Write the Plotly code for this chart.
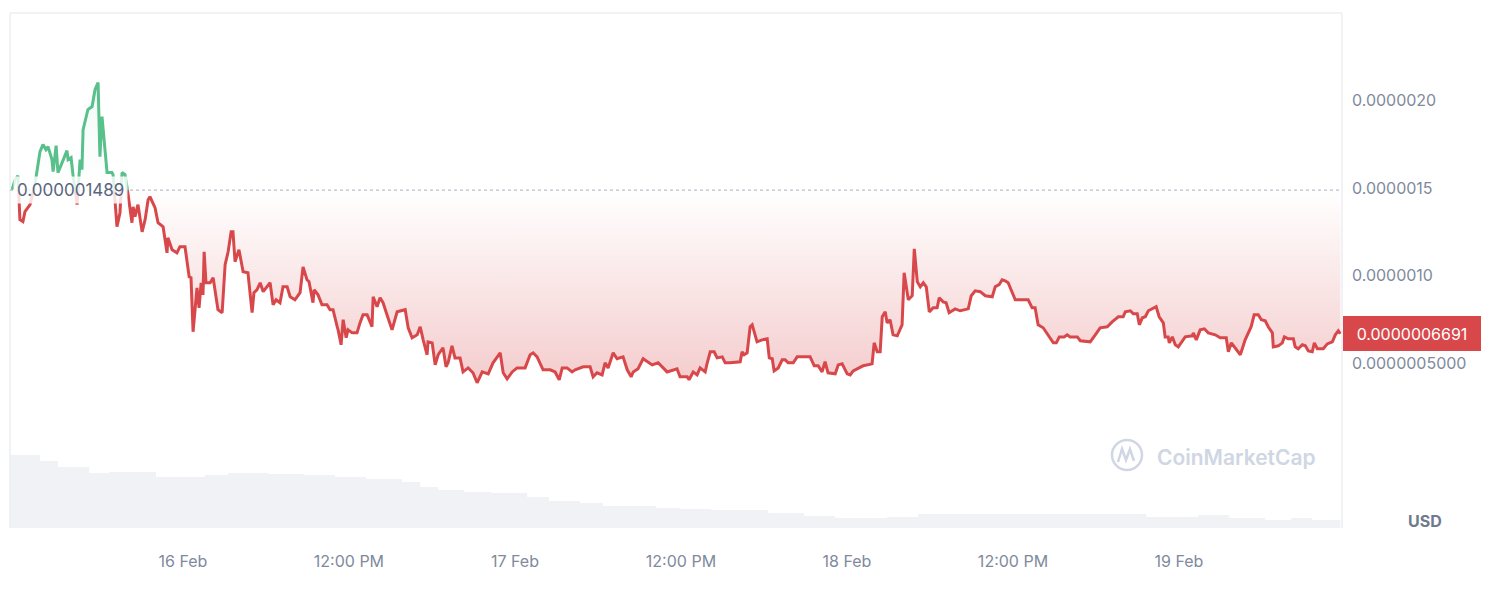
import pandas as pd
import plotly.graph_objects as go

# price samples: minutes after 15 Feb 2025 11:30, price in nano-USD (1e-9)
minutes = [
    9, 22, 35, 43, 56, 65, 87, 108, 130, 143, 156, 165, 182, 187, 200, 208, 226, 239, 247, 252,
    265, 273, 291, 304, 312, 317, 338, 356, 369, 382, 390, 399, 403, 421, 442, 447, 464, 477, 486, 499,
    508, 529, 534, 542, 555, 573, 586, 599, 607, 629, 642, 664, 681, 685, 703, 724, 737, 759, 777, 785,
    794, 811, 820, 829, 837, 842, 850, 868, 881, 902, 920, 933, 946, 959, 967, 976, 993, 1011, 1032, 1050,
    1058, 1071, 1085, 1098, 1128, 1141, 1154, 1171, 1184, 1202, 1215, 1236, 1258, 1271, 1288, 1297, 1314, 1319, 1336, 1353,
    1375, 1388, 1401, 1419, 1423, 1436, 1445, 1458, 1466, 1484, 1505, 1518, 1531, 1549, 1570, 1575, 1592, 1605, 1618, 1635,
    1657, 1679, 1714, 1727, 1744, 1766, 1779, 1792, 1809, 1813, 1831, 1844, 1857, 1878, 1891, 1900, 1917, 1930, 1952, 1965,
    1987, 2008, 2026, 2048, 2074, 2095, 2126, 2139, 2156, 2178, 2199, 2234, 2256, 2269, 2286, 2312, 2343, 2364, 2382, 2395,
    2416, 2438, 2451, 2486, 2516, 2529, 2546, 2568, 2581, 2594, 2616, 2633, 2659, 2677, 2694, 2703, 2724, 2746, 2763, 2785,
    2811, 2850, 2893, 2906, 2937, 2945, 2963, 2980, 2993, 3015, 3024, 3037, 3054, 3067, 3089, 3102, 3123, 3167, 3175, 3184,
    3197, 3210, 3219, 3240, 3262, 3284, 3293, 3306, 3314, 3332, 3349, 3362, 3375, 3397, 3414, 3470, 3488, 3505, 3522, 3535,
    3548, 3579, 3592, 3609, 3631, 3644, 3657, 3679, 3700, 3739, 3748, 3761, 3774, 3783, 3796, 3804, 3817, 3830, 3848, 3869,
    3878, 3896, 3913, 3922, 3935, 3948, 3961, 3974, 3987, 4004, 4021, 4030, 4047, 4060, 4073, 4099, 4121, 4156, 4169, 4186,
    4208, 4230, 4260, 4273, 4290, 4303, 4316, 4329, 4347, 4360, 4416, 4433, 4446, 4459, 4481, 4503, 4525, 4538, 4551, 4572,
    4585, 4598, 4629, 4642, 4685, 4707, 4728, 4759, 4780, 4807, 4828, 4837, 4859, 4872, 4889, 4898, 4911, 4924, 4937, 4971,
    4984, 5002, 5010, 5023, 5028, 5041, 5054, 5067, 5084, 5097, 5128, 5132, 5145, 5162, 5180, 5197, 5227, 5249, 5275, 5284,
    5297, 5314, 5336, 5357, 5383, 5396, 5414, 5427, 5444, 5457, 5475, 5479, 5501, 5518, 5527, 5544, 5566, 5574, 5587, 5605,
    5618, 5631, 5648, 5657, 5670, 5696, 5713, 5735, 5748, 5761, 5770,
]
price_nusd = [
    1491, 1549, 1571, 1320, 1309, 1366, 1406, 1520, 1708, 1749, 1720, 1737, 1663, 1594, 1743, 1589, 1646, 1691, 1714, 1663,
    1674, 1577, 1406, 1663, 1606, 1834, 1949, 1966, 2063, 2103, 1680, 1909, 1851, 1589, 1589, 1577, 1280, 1360, 1589, 1577,
    1503, 1303, 1394, 1337, 1406, 1251, 1320, 1434, 1451, 1389, 1303, 1280, 1131, 1217, 1149, 1131, 1166, 1166, 994, 989,
    680, 931, 817, 960, 891, 1137, 960, 960, 989, 806, 789, 1063, 1137, 1251, 1251, 1080, 1149, 1023, 1017, 789,
    903, 920, 960, 909, 960, 834, 863, 846, 937, 937, 880, 863, 903, 1051, 977, 966, 846, 920, 891, 834,
    834, 806, 806, 709, 691, 606, 749, 646, 691, 674, 674, 731, 777, 777, 709, 880, 823, 874, 846, 777,
    691, 794, 806, 703, 646, 663, 709, 634, 549, 623, 617, 491, 549, 589, 480, 503, 600, 531, 531, 451,
    474, 446, 389, 451, 440, 503, 560, 446, 411, 451, 474, 474, 549, 560, 537, 463, 463, 451, 406, 474,
    474, 451, 463, 480, 480, 423, 446, 434, 503, 474, 560, 526, 537, 463, 423, 451, 469, 526, 509, 491,
    503, 451, 469, 423, 423, 406, 451, 434, 474, 451, 503, 566, 566, 531, 537, 503, 503, 509, 566, 549,
    560, 709, 720, 623, 634, 640, 531, 526, 457, 474, 520, 520, 503, 503, 537, 537, 486, 486, 451, 509,
    446, 440, 491, 497, 440, 434, 457, 474, 486, 497, 617, 566, 566, 766, 794, 731, 749, 663, 657, 720,
    1017, 863, 886, 1154, 966, 937, 960, 937, 794, 817, 817, 874, 851, 846, 789, 811, 800, 811, 886, 914,
    909, 886, 880, 937, 949, 977, 971, 960, 909, 863, 863, 817, 817, 720, 703, 663, 617, 617, 651, 651,
    663, 651, 651, 629, 623, 663, 703, 709, 737, 766, 766, 794, 800, 783, 783, 720, 760, 766, 800, 823,
    766, 731, 651, 651, 617, 651, 606, 594, 623, 651, 657, 674, 634, 691, 697, 674, 663, 646, 646, 566,
    617, 589, 549, 634, 709, 777, 777, 749, 743, 709, 674, 594, 600, 617, 651, 640, 640, 594, 583, 606,
    600, 571, 566, 617, 583, 583, 611, 623, 663, 686, 669,
]

# volume (relative units) sampled at minutes after 15 Feb 11:30
vol_minutes = [0, 113, 130, 208, 343, 429, 577, 633, 772, 846, 946, 1119, 1275, 1410, 1544, 1700, 1779, 1857, 1969, 2087,
               2243, 2338, 2473, 2572, 2802, 2906, 3041, 3288, 3444, 3579, 3804, 3939, 4347, 4568, 4928, 5154, 5288,
               5444, 5557, 5648, 5770]
volume = [73, 73, 67, 61, 55, 56, 56, 51, 51, 53, 55, 54, 53, 51, 49, 46, 41, 38, 36, 35,
          31, 27, 25, 22, 20, 19, 18, 15, 12, 10, 11, 14, 14, 14, 11, 13, 10, 8, 10, 8, 8]

tick_dates = ["2025-02-16 00:00", "2025-02-16 12:00", "2025-02-17 00:00", "2025-02-17 12:00",
              "2025-02-18 00:00", "2025-02-18 12:00", "2025-02-19 00:00"]
tick_labels = ["16 Feb", "12:00 PM", "17 Feb", "12:00 PM", "18 Feb", "12:00 PM", "19 Feb"]

y_ticks = [0, 5e-7, 1e-6, 1.5e-6, 2e-6]
y_tick_labels = ["", "0.0000005000", "0.0000010", "0.0000015", "0.0000020"]

base_price = 1.489e-6
last_price = 6.691e-7

start = pd.Timestamp("2025-02-15 11:30")
times = start + pd.to_timedelta(minutes, unit="min")
vol_times = start + pd.to_timedelta(vol_minutes, unit="min")
prices = [p * 1e-9 for p in price_nusd]

GREEN = "#58c08a"
RED = "#d8484b"
GRID = "#eceef2"
TEXT = "#808a9d"

W, H = 1492, 594
L, R, T, B = 10, 150, 13, 66
y_lo, y_hi = -4.4e-7, 2.5e-6
split = (base_price - y_lo) / (y_hi - y_lo)
vol_frac = 77 / (H - T - B)


def px(x):
    return (x - L) / (W - L - R)


def py(y):
    return (H - B - y) / (H - T - B)


fig = go.Figure()

# volume
fig.add_trace(go.Scatter(x=vol_times, y=volume, yaxis="y4", mode="lines", line=dict(width=0, shape="hv"),
                         fill="tozeroy", fillcolor="#f1f2f6", hoverinfo="skip"))

# red part (below base price)
fig.add_trace(go.Scatter(x=[times[0], times[-1]], y=[base_price, base_price], yaxis="y2", mode="lines",
                         line=dict(width=0), hoverinfo="skip"))
fig.add_trace(go.Scatter(x=times, y=prices, yaxis="y2", mode="lines", line=dict(color=RED, width=3),
                         fill="tonexty",
                         fillgradient=dict(type="vertical", start=3.8e-7, stop=base_price,
                                           colorscale=[[0, "rgba(216,72,75,0.28)"], [1, "rgba(216,72,75,0.0)"]])))

# green part (above base price)
fig.add_trace(go.Scatter(x=[times[0], times[-1]], y=[base_price, base_price], yaxis="y3", mode="lines",
                         line=dict(width=0), hoverinfo="skip"))
fig.add_trace(go.Scatter(x=times, y=prices, yaxis="y3", mode="lines", line=dict(color=GREEN, width=3),
                         fill="tonexty",
                         fillgradient=dict(type="vertical", start=base_price, stop=2.1e-6,
                                           colorscale=[[0, "rgba(88,192,138,0.0)"], [1, "rgba(88,192,138,0.08)"]])))

x_range = [start, pd.Timestamp("2025-02-19 11:47")]

fig.update_layout(
    width=W, height=H,
    margin=dict(l=L, r=R, t=T, b=B),
    paper_bgcolor="white", plot_bgcolor="white",
    showlegend=False,
    font=dict(family="Inter, Noto Sans, sans-serif", size=16, color=TEXT),
    xaxis=dict(range=x_range, showgrid=False, zeroline=False, showline=False,
               tickvals=pd.to_datetime(tick_dates), ticktext=tick_labels, ticks="",
               ticklabelstandoff=22, tickfont=dict(size=16, color=TEXT)),
    yaxis=dict(range=[y_lo, y_hi], side="right", tickvals=y_ticks, ticktext=y_tick_labels,
               showgrid=True, gridcolor=GRID, gridwidth=1, zeroline=False, showline=False,
               ticks="", ticklabelstandoff=9, tickfont=dict(size=16, color=TEXT)),
    yaxis2=dict(domain=[0, split], range=[y_lo, base_price], anchor="x", visible=False),
    yaxis3=dict(domain=[split, 1], range=[base_price, y_hi], anchor="x", visible=False),
    yaxis4=dict(domain=[0, vol_frac], range=[0, 77], anchor="x", visible=False),
)

# frame lines
for x0, y0, x1, y1 in [(0, 0, 0, 1), (1, 0, 1, 1), (0, 1, 1, 1)]:
    fig.add_shape(type="line", xref="paper", yref="paper", x0=x0, y0=y0, x1=x1, y1=y1,
                  line=dict(color=GRID, width=1.5))

# base price dotted line
fig.add_shape(type="line", xref="paper", yref="y", x0=0, x1=1, y0=base_price, y1=base_price,
              line=dict(color="#a7adbd", width=1, dash="dot"))

fig.add_annotation(xref="paper", yref="y", x=px(13), y=base_price, xanchor="left", yanchor="middle",
                   text="0.000001489", showarrow=False, font=dict(size=17, color="#58667e"),
                   bgcolor="rgba(255,255,255,0.82)", borderpad=3)

# last price tag
fig.add_annotation(xref="paper", yref="y", x=1, y=last_price, xanchor="left", yanchor="middle", xshift=1,
                   text="0.0000006691", showarrow=False, font=dict(size=16, color="white"),
                   bgcolor=RED, bordercolor=RED, borderpad=7, width=122, height=19)

# currency label
fig.add_annotation(xref="paper", yref="paper", x=px(1425), y=py(521), xanchor="center", yanchor="middle",
                   text="<b>USD</b>", showarrow=False, font=dict(size=16, color="#6f7a8e"))

# watermark
fig.add_shape(type="circle", xref="paper", yref="paper", x0=px(1112), x1=px(1142), y0=py(470), y1=py(440),
              line=dict(color="#cfd6e4", width=2.5))
fig.add_shape(type="path", xref="paper", yref="paper",
              path=f"M {px(1118)},{py(462)} L {px(1122)},{py(449)} L {px(1126)},{py(460)} "
                   f"L {px(1130)},{py(449)} L {px(1134)},{py(461)}",
              line=dict(color="#cfd6e4", width=2.5))
fig.add_annotation(xref="paper", yref="paper", x=px(1155), y=py(457), xanchor="left", yanchor="middle",
                   text="CoinMarketCap", showarrow=False,
                   font=dict(size=21, color="#cfd6e4", weight=600))

fig.write_html("out.html", config={"displayModeBar": False},
               post_script="document.body.style.margin = '0';")
